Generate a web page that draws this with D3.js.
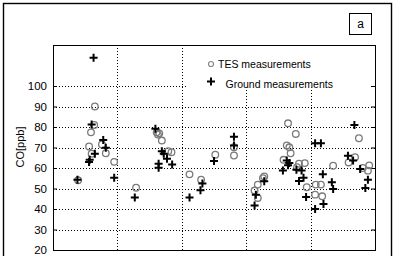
<!DOCTYPE html>
<html>
<head>
<meta charset="utf-8">
<script src="https://cdn.jsdelivr.net/npm/d3@7"></script>
<style>
    body { margin: 0; background: #fff; }
    svg { display: block; font-family: "Liberation Sans", Arial, sans-serif; }
</style>
</head>
<body>
<div class="chart"></div>
<script>
// x = position along the panel (0..5), y = CO in ppb
const tesX = [0.65, 0.64, 0.59, 0.56, 0.76, 0.60, 0.82, 0.95, 0.39,
    1.61, 1.65, 1.63, 1.69, 1.79, 1.84, 1.29, 2.12, 2.30,
    2.52, 2.81, 2.81,
    3.28, 3.26, 3.18, 3.13, 3.18, 3.65, 3.77, 3.63, 3.67, 3.69, 3.58, 3.82, 3.91, 3.79,
    3.94, 4.08, 4.16, 4.07, 4.18, 4.35, 4.75, 4.59, 4.69, 4.81, 4.89, 4.91];
const tesCO = [90, 81, 77.4, 70.5, 71.5, 67, 67.2, 63, 54,
    77.4, 76.9, 76.3, 73.4, 68.2, 67.7, 50.4, 56.9, 54.3,
    66.5, 70.1, 66.1,
    55.9, 55, 51.9, 49, 45.4, 81.8, 76.6, 71, 70.1, 67.2, 64, 62.1, 62.4, 60.4,
    50.6, 51.9, 51.9, 47, 46.2, 61.1, 74.5, 62.7, 65.3, 60, 58.7, 61.3];

const groundX = [0.63, 0.60, 0.78, 0.82, 0.65, 0.57, 0.56, 0.38, 0.95,
    1.59, 1.69, 1.72, 1.77, 1.64, 1.64, 1.85, 1.27, 2.12, 2.32, 2.29,
    2.50, 2.81, 2.81,
    3.28, 3.15, 3.13, 3.63, 3.67, 3.65, 3.57, 3.78, 3.86, 3.89, 3.82, 3.93,
    4.07, 4.16, 4.19, 4.33, 4.35, 4.20, 4.07, 4.68, 4.58, 4.66, 4.77, 4.89, 4.85];
const groundCO = [113.8, 81.2, 73.7, 69.9, 67, 64, 62.9, 54.3, 55.3,
    79.1, 68.2, 67, 64.5, 62.1, 60.1, 61.7, 45.6, 45.6, 52.4, 49.1,
    63.4, 75.3, 71,
    53.5, 47, 41.7, 63.7, 62.4, 61.3, 58.8, 59.2, 58.8, 55.3, 53.6, 45.9,
    72.1, 72.1, 56.9, 53, 49.8, 42.5, 40, 81, 66, 63.7, 59.5, 54.3, 50.3];

const yTicks = [20, 30, 40, 50, 60, 70, 80, 90, 100];
const xGrid = [1, 2, 3, 4];
const legendLabels = ["TES measurements", "Ground measurements"];
const panelLabel = "a";
const yLabel = "CO[ppb]";

class CoPanel {
    constructor() {
        this.container = document.querySelector('.chart');
        this.width = 396;
        this.height = 256;
        this.box = { left: 53, top: 45, right: 375, bottom: 250 };
        this.init();
    }

    init() {
        this.svg = d3.select(this.container)
            .append("svg")
            .attr("width", this.width)
            .attr("height", this.height);

        this.x = d3.scaleLinear().domain([0, 5]).range([this.box.left, this.box.right]);
        this.y = d3.scaleLinear().domain([20, 120]).range([this.box.bottom, this.box.top]);

        this.drawFrame();
        this.drawGrid();
        this.drawLegendBack();
        this.drawAxes();
        this.drawPoints();
        this.drawLegend();
    }

    drawFrame() {
        this.svg.append("rect")
            .attr("x", 3.5).attr("y", 3.5)
            .attr("width", 388).attr("height", 262)
            .attr("fill", "none")
            .attr("stroke", "#000")
            .attr("stroke-width", 1.4);

        this.svg.append("rect")
            .attr("x", 349.5).attr("y", 13.5)
            .attr("width", 22).attr("height", 21)
            .attr("fill", "none")
            .attr("stroke", "#000");

        this.svg.append("text")
            .attr("x", 360.5).attr("y", 28)
            .attr("text-anchor", "middle")
            .style("font-size", "12px")
            .text(panelLabel);
    }

    drawGrid() {
        const g = this.svg.append("g")
            .attr("stroke", "#000")
            .attr("stroke-dasharray", "1,2")
            .attr("shape-rendering", "crispEdges");

        g.selectAll(".hgrid")
            .data(yTicks)
            .enter().append("line")
            .attr("x1", this.box.left)
            .attr("x2", this.box.right)
            .attr("y1", d => Math.round(this.y(d)) + 0.5)
            .attr("y2", d => Math.round(this.y(d)) + 0.5);

        g.selectAll(".vgrid")
            .data(xGrid)
            .enter().append("line")
            .attr("x1", d => Math.round(this.x(d)) + 0.5)
            .attr("x2", d => Math.round(this.x(d)) + 0.5)
            .attr("y1", this.box.top)
            .attr("y2", this.box.bottom);
    }

    drawLegendBack() {
        // white legend area hides the grid behind it
        this.svg.append("rect")
            .attr("x", 188).attr("y", 46)
            .attr("width", 182).attr("height", 41.5)
            .attr("fill", "#fff");
    }

    drawAxes() {
        const left = d3.axisLeft(this.y)
            .tickValues(yTicks)
            .tickSizeInner(-4)
            .tickSizeOuter(0)
            .tickPadding(6);

        const gl = this.svg.append("g")
            .attr("transform", `translate(${this.box.left},0)`)
            .call(left);
        gl.select(".domain").remove();
        gl.selectAll("text")
            .style("font-size", "11.5px")
            .style("font-family", "'Liberation Sans', Arial, sans-serif")
            .attr("fill", "#000");

        const right = d3.axisRight(this.y)
            .tickValues(yTicks)
            .tickSizeInner(-4)
            .tickSizeOuter(0)
            .tickFormat("");

        const gr = this.svg.append("g")
            .attr("transform", `translate(${this.box.right},0)`)
            .call(right);
        gr.select(".domain").remove();

        this.svg.append("rect")
            .attr("x", this.box.left + 0.5)
            .attr("y", this.box.top + 0.5)
            .attr("width", this.box.right - this.box.left)
            .attr("height", this.box.bottom - this.box.top)
            .attr("fill", "none")
            .attr("stroke", "#000");

        this.svg.append("text")
            .attr("transform", `translate(24, 147) rotate(-90)`)
            .attr("text-anchor", "middle")
            .style("font-size", "11px")
            .text(yLabel);
    }

    plus(sel, cx, cy, r) {
        sel.append("path")
            .attr("d", `M${cx - r},${cy}H${cx + r}M${cx},${cy - r}V${cy + r}`)
            .attr("stroke", "#000")
            .attr("stroke-width", 2)
            .attr("fill", "none");
    }

    drawPoints() {
        const tes = tesX.map((d, i) => ({ x: d, co: tesCO[i] }));
        const ground = groundX.map((d, i) => ({ x: d, co: groundCO[i] }));

        this.svg.append("g")
            .selectAll("circle")
            .data(tes)
            .enter().append("circle")
            .attr("cx", d => this.x(d.x))
            .attr("cy", d => this.y(d.co))
            .attr("r", 3.3)
            .attr("fill", "none")
            .attr("stroke", "#7a7a7a")
            .attr("stroke-width", 1.3);

        const gp = this.svg.append("g");
        ground.forEach(d => this.plus(gp, this.x(d.x), this.y(d.co), 4));
    }

    drawLegend() {
        const g = this.svg.append("g");

        g.append("circle")
            .attr("cx", 211).attr("cy", 64)
            .attr("r", 2.5)
            .attr("fill", "none")
            .attr("stroke", "#888")
            .attr("stroke-width", 1.2);
        this.plus(g, 211, 81.5, 4);

        g.selectAll("text")
            .data(legendLabels)
            .enter().append("text")
            .attr("x", (d, i) => i === 0 ? 218 : 225.5)
            .attr("y", (d, i) => i === 0 ? 68.3 : 88)
            .style("font-size", "10.5px")
            .text(d => d);
    }
}

new CoPanel();
</script>
</body>
</html>
